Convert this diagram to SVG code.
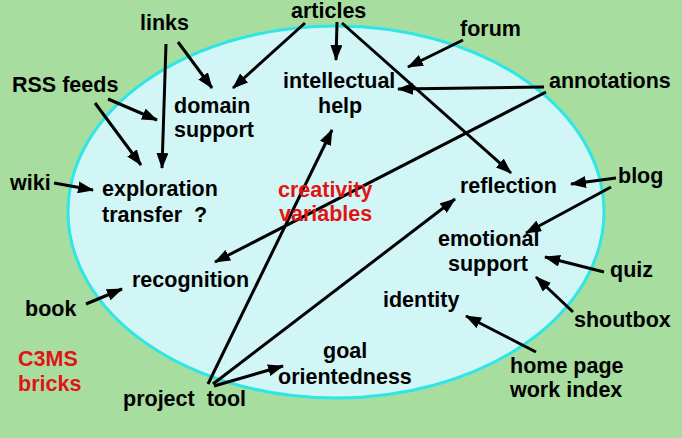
<svg xmlns="http://www.w3.org/2000/svg" width="682" height="438" viewBox="0 0 682 438">
<style>
text{font-family:"Liberation Sans",Arial,sans-serif;font-weight:bold;font-size:21.5px;fill:#000;white-space:pre}
.red{fill:#e01414}
.c line{stroke:#000;stroke-width:3;marker-end:url(#ah)}
</style>
<defs>
<marker id="ah" viewBox="0 0 16 12" refX="15" refY="6" markerWidth="16" markerHeight="12" markerUnits="userSpaceOnUse" orient="auto">
<path d="M0,0 L16,6 L0,12 z" fill="#000"/>
</marker>
</defs>
<rect width="682" height="438" fill="#a8dda0"/>
<ellipse cx="336" cy="212" rx="268" ry="186" fill="#d2f6f6" stroke="#2ee6e6" stroke-width="3"/>
<g class="c" id="connectors">
<line x1="178" y1="42" x2="212" y2="88"/>
<line x1="166" y1="44" x2="162" y2="168"/>
<line x1="108" y1="99" x2="157" y2="120"/>
<line x1="95" y1="103" x2="141" y2="165"/>
<line x1="54" y1="183" x2="93" y2="190"/>
<line x1="305" y1="23" x2="233" y2="88"/>
<line x1="337" y1="22" x2="336" y2="60"/>
<line x1="342" y1="23" x2="511" y2="173"/>
<line x1="463" y1="40" x2="408" y2="67"/>
<line x1="544" y1="87" x2="398" y2="89"/>
<line x1="546" y1="92" x2="215" y2="262"/>
<line x1="616" y1="178" x2="571" y2="184"/>
<line x1="611" y1="187" x2="526" y2="233"/>
<line x1="604" y1="272" x2="545" y2="257"/>
<line x1="573" y1="312" x2="536" y2="277"/>
<line x1="536" y1="352" x2="466" y2="316"/>
<line x1="86" y1="304" x2="122" y2="289"/>
<line x1="208" y1="384" x2="332" y2="130"/>
<line x1="213" y1="384" x2="455" y2="199"/>
<line x1="214" y1="386" x2="283" y2="366"/>
</g>
<g id="links"><text x="140" y="30">links</text></g>
<g id="articles"><text x="291" y="18">articles</text></g>
<g id="forum"><text x="460" y="36">forum</text></g>
<g id="rss-feeds"><text x="12" y="92">RSS feeds</text></g>
<g id="annotations"><text x="549" y="88">annotations</text></g>
<g id="domain-support"><text x="174" y="113">domain</text><text x="174" y="137">support</text></g>
<g id="intellectual-help"><text x="283" y="88">intellectual</text><text x="318" y="113">help</text></g>
<g id="wiki"><text x="10" y="190">wiki</text></g>
<g id="exploration-transfer"><text x="102" y="196">exploration</text><text x="102" y="222">transfer  ?</text></g>
<g id="creativity-variables"><text class="red" x="278" y="197">creativity</text><text class="red" x="279" y="221">variables</text></g>
<g id="reflection"><text x="460" y="193">reflection</text></g>
<g id="blog"><text x="618" y="183">blog</text></g>
<g id="emotional-support"><text x="438" y="246">emotional</text><text x="448" y="271">support</text></g>
<g id="quiz"><text x="610" y="277">quiz</text></g>
<g id="recognition"><text x="132" y="287">recognition</text></g>
<g id="book"><text x="25" y="316">book</text></g>
<g id="identity"><text x="383" y="307">identity</text></g>
<g id="shoutbox"><text x="574" y="327">shoutbox</text></g>
<g id="goal-orientedness"><text x="323" y="358">goal</text><text x="278" y="384">orientedness</text></g>
<g id="c3ms-bricks"><text class="red" x="18" y="366">C3MS</text><text class="red" x="18" y="391">bricks</text></g>
<g id="home-page"><text x="510" y="373">home page</text><text x="510" y="397">work index</text></g>
<g id="project-tool"><text x="123" y="406">project  tool</text></g>
</svg>
